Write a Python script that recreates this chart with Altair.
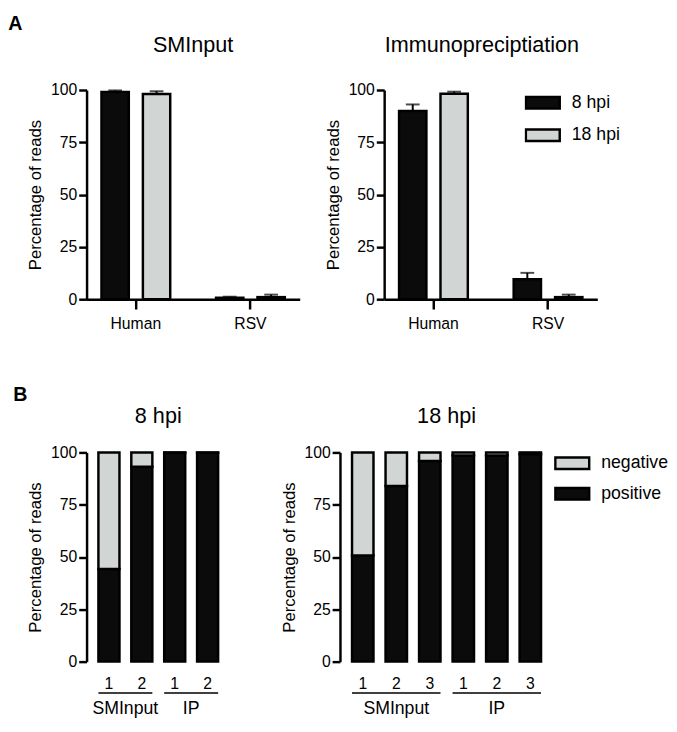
import altair as alt
import pandas as pd

FONT = "Liberation Sans"
BLACK = "#0b0b0b"
GREY = "#d1d6d4"

# ---------------- Panel A data ----------------
species = ["Human", "RSV"]
timepoints = ["8 hpi", "18 hpi"]
sminput_8 = [99.1, 0.7]
sminput_8_err = [0.7, 0.5]
sminput_18 = [98.1, 1.0]
sminput_18_err = [1.3, 1.2]
ip_8 = [90.0, 9.5]
ip_8_err = [3.1, 3.1]
ip_18 = [98.2, 1.0]
ip_18_err = [1.0, 1.2]

# ---------------- Panel B data ----------------
statuses = ["negative", "positive"]
samples_8 = ["SMInput 1", "SMInput 2", "IP 1", "IP 2"]
positive_8 = [44.3, 93.2, 99.8, 99.8]
samples_18 = ["SMInput 1", "SMInput 2", "SMInput 3", "IP 1", "IP 2", "IP 3"]
positive_18 = [50.8, 84.0, 95.9, 98.5, 98.5, 99.2]
group_names = ["SMInput", "IP"]
groups_8_first = ["SMInput 1", "IP 1"]
groups_8_last = ["SMInput 2", "IP 2"]
groups_18_first = ["SMInput 1", "IP 1"]
groups_18_last = ["SMInput 3", "IP 3"]
groups_18_mid = ["SMInput 2", "IP 2"]

RECT = "M-1,-0.34H1V0.34H-1Z"
Y_TITLE = "Percentage of reads"
H = 213


def y_axis():
    return alt.Axis(values=[0, 25, 50, 75, 100], title=Y_TITLE, tickSize=8,
                    labelPadding=2, titlePadding=6)


def legend_for(x, y, row_pad):
    return alt.Legend(title=None, orient="none", legendX=x, legendY=y,
                      symbolType=RECT, symbolSize=1190, clipHeight=20,
                      rowPadding=row_pad, labelFontSize=18, labelOffset=11,
                      symbolStrokeColor="black", symbolStrokeWidth=2.5,
                      padding=0, labelFont=FONT, labelColor="black")


def panel_a(title, v8, e8, v18, e18, show_legend, title_dx=0):
    rows = []
    for i, sp in enumerate(species):
        rows.append(dict(species=sp, time="8 hpi", value=v8[i], upper=v8[i] + e8[i]))
        rows.append(dict(species=sp, time="18 hpi", value=v18[i], upper=v18[i] + e18[i]))
    df = pd.DataFrame(rows)
    base = alt.Chart(df)
    x = alt.X("species:N",
              scale=alt.Scale(domain=species, paddingInner=0.4, paddingOuter=0.13),
              axis=alt.Axis(title=None, labelAngle=0, tickSize=10, labelPadding=7))
    xo = alt.XOffset("time:N",
                     scale=alt.Scale(domain=timepoints, paddingInner=0.34, paddingOuter=0))
    yscale = alt.Scale(domain=[0, 100], nice=False)
    legend = legend_for(143, 3, 13) if show_legend else None
    color = alt.Color("time:N", scale=alt.Scale(domain=timepoints, range=[BLACK, GREY]),
                      legend=legend)
    bars = base.mark_bar(stroke="black", strokeWidth=2.5).encode(
        x=x, xOffset=xo,
        y=alt.Y("value:Q", scale=yscale, axis=y_axis()),
        color=color)
    err = base.mark_rule(color="black", strokeWidth=2).encode(
        x=x, xOffset=xo,
        y=alt.Y("value:Q", scale=yscale, title=Y_TITLE), y2="upper:Q")
    caps = base.mark_tick(color="black", thickness=2, size=14).encode(
        x=x, xOffset=xo,
        y=alt.Y("upper:Q", scale=yscale, title=Y_TITLE))
    return alt.layer(bars, err, caps).properties(
        width=217, height=H,
        title=alt.TitleParams(title, fontSize=22, offset=26, dx=title_dx))


def panel_b(title, samples, positive, width, g_first, g_last, g_anchor, band_pos,
            label_dx, show_legend):
    rows = []
    for s, p in zip(samples, positive):
        rows.append(dict(sample=s, status="positive", value=p, ord=0))
        rows.append(dict(sample=s, status="negative", value=round(100 - p, 2), ord=1))
    df = pd.DataFrame(rows)
    reps = pd.DataFrame(dict(sample=samples, rep=[s.split(" ")[-1] for s in samples]))
    xscale = alt.Scale(domain=samples, paddingInner=0.36, paddingOuter=0.36)
    yscale = alt.Scale(domain=[0, 100], nice=False)
    legend = legend_for(218, 1, 11) if show_legend else None
    bars = alt.Chart(df).mark_bar(stroke="black", strokeWidth=2.5).encode(
        x=alt.X("sample:N", scale=xscale,
                axis=alt.Axis(title=None, labels=False, tickSize=10)),
        y=alt.Y("value:Q", stack="zero", scale=yscale, axis=y_axis()),
        color=alt.Color("status:N", scale=alt.Scale(domain=statuses, range=[GREY, BLACK]),
                        legend=legend),
        order=alt.Order("ord:Q"))
    rep_text = alt.Chart(reps).mark_text(fontSize=16, font=FONT, color="black",
                                         baseline="alphabetic").encode(
        x=alt.X("sample:N", scale=xscale, axis=None),
        y=alt.value(H + 28),
        text="rep:N")
    gdf = pd.DataFrame(dict(group=group_names, first=g_first, last=g_last, anchor=g_anchor))
    lines = alt.Chart(gdf).mark_rule(color="black", strokeWidth=1.5).encode(
        x=alt.X("first:N", scale=xscale, bandPosition=0, axis=None),
        x2=alt.X2("last:N", bandPosition=1),
        y=alt.value(H + 32))
    labels = alt.Chart(gdf).mark_text(fontSize=18, baseline="alphabetic", font=FONT,
                                      color="black", dx=label_dx).encode(
        x=alt.X("anchor:N", scale=xscale, bandPosition=band_pos, axis=None),
        y=alt.value(H + 53),
        text="group:N")
    return alt.layer(bars, rep_text, lines, labels).properties(
        width=width, height=H,
        title=alt.TitleParams(title, fontSize=22, offset=17))


p1 = panel_a("SMInput", sminput_8, sminput_8_err, sminput_18, sminput_18_err, False)
p2 = panel_a("Immunopreciptiation", ip_8, ip_8_err, ip_18, ip_18_err, True, title_dx=-9)
p3 = panel_b("8 hpi", samples_8, positive_8, 146, groups_8_first, groups_8_last,
             groups_8_first, 1, 6, False)
p4 = panel_b("18 hpi", samples_18, positive_18, 217, groups_18_first, groups_18_last,
             groups_18_mid, 0.5, 0, True)

row_a = alt.hconcat(p1, p2, spacing=25,
                    title=alt.TitleParams("A", anchor="start", fontSize=20,
                                          fontWeight="bold", dx=-19, offset=0)
                    ).resolve_scale(color="independent").resolve_legend(color="independent")
row_b = alt.hconcat(p3, p4, spacing=51,
                    title=alt.TitleParams("B", anchor="start", fontSize=20,
                                          fontWeight="bold", dx=-14, offset=0)
                    ).resolve_scale(color="independent").resolve_legend(color="independent")

chart = alt.vconcat(row_a, row_b, spacing=55).resolve_scale(
    color="independent").resolve_legend(color="independent").properties(
    padding=0
).configure_axis(
    domainColor="black", domainWidth=2.5, tickColor="black", tickWidth=2.5,
    labelColor="black", titleColor="black", labelFont=FONT, titleFont=FONT,
    labelFontSize=16, titleFontSize=17, titleFontWeight="normal", grid=False
).configure_title(
    font=FONT, color="black", fontWeight="normal"
).configure_view(stroke=None)

chart.save("out.html", embed_options={"renderer": "svg", "actions": False})
